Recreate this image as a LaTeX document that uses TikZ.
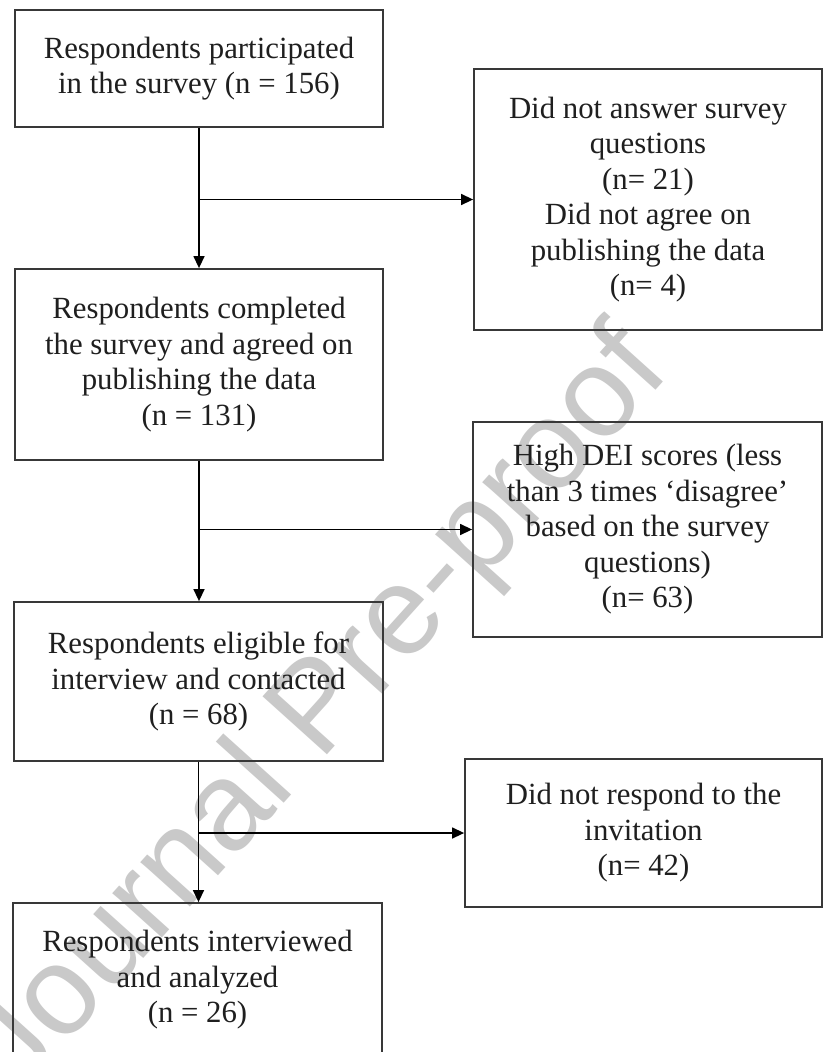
\documentclass[tikz,border=0pt]{standalone}
\usepackage{fontspec}
\setmainfont{Liberation Serif}
\newfontfamily\wmfont{Liberation Sans}
\usetikzlibrary{arrows.meta}
\begin{document}
\begin{tikzpicture}[x=1pt,y=-1pt,
  box/.style={draw=black!78, line width=1.8pt, inner sep=0pt, align=center,
    font=\fontsize{30.8}{35.5}\selectfont, text=black!88},
  arr/.style={draw=black, line width=1.4pt, -{Triangle[length=12pt,width=11pt]}},
  watermark/.style={rotate=48, font=\wmfont\fontsize{126}{126}\selectfont,
    text=black!21, inner sep=0pt}]
\useasboundingbox (0,0) rectangle (824,1052);
\fill[white] (0,0) rectangle (824,1052);

\node[watermark] (wm) at (322,712) {Journal Pre-proof};

\node[box, minimum width=368pt, minimum height=117.5pt] (b1) at (199,68.5)
  {Respondents participated\\in the survey (n = 156)};
\node[box, minimum width=348pt, minimum height=261pt] (b2) at (648,199.5)
  {Did not answer survey\\questions\\(n= 21)\\Did not agree on\\publishing the data\\(n= 4)};
\node[box, minimum width=368pt, minimum height=191pt] (b3) at (199,364.5)
  {Respondents completed\\the survey and agreed on\\publishing the data\\(n = 131)};
\node[box, minimum width=349pt, minimum height=215pt] (b4) at (647.5,529.5)
  {High DEI scores (less\\than 3 times `disagree'\\based on the survey\\questions)\\(n= 63)};
\node[box, minimum width=369pt, minimum height=159pt] (b5) at (198.5,681.5)
  {Respondents eligible for\\interview and contacted\\(n = 68)};
\node[box, minimum width=357pt, minimum height=148pt] (b6) at (643.5,833)
  {Did not respond to the\\invitation\\(n= 42)};
\node[box, minimum width=369pt, minimum height=154pt] (b7) at (197.5,980)
  {Respondents interviewed\\and analyzed\\(n = 26)};

\draw[arr] (b1.south) -- (b1.south |- b3.north);
\draw[arr] (b1.south |- b2.west) -- (b2.west);
\draw[arr] (b3.south) -- (b3.south |- b5.north);
\draw[arr] (b3.south |- b4.west) -- (b4.west);
\draw[arr] (b5.south) -- (b5.south |- b7.north);
\draw[arr] (b5.south |- b6.west) -- (b6.west);
\end{tikzpicture}
\end{document}
